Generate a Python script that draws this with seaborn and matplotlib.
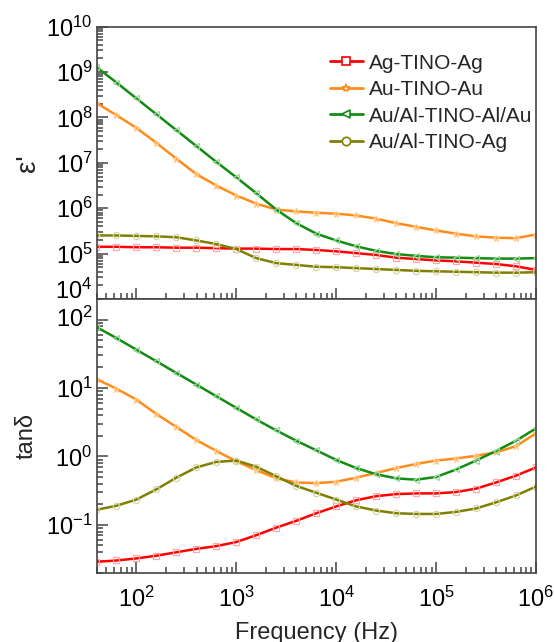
import numpy as np
import pandas as pd
import matplotlib
matplotlib.use("Agg")
import matplotlib.pyplot as plt
import seaborn as sns
from matplotlib.ticker import LogLocator, NullFormatter
from matplotlib.lines import Line2D

sns.set_theme(style="ticks")
plt.rcParams["font.family"] = ["Liberation Sans", "DejaVu Sans"]
plt.rcParams["mathtext.fontset"] = "custom"
plt.rcParams["mathtext.rm"] = "Liberation Sans"
plt.rcParams["mathtext.it"] = "Liberation Sans:italic"
plt.rcParams["mathtext.bf"] = "Liberation Sans:bold"

# ---- data (log10 of frequency in Hz, log10 of values) ----
freq_exp = [1.6, 1.8, 2.0, 2.2, 2.4, 2.6, 2.8, 3.0, 3.2, 3.4, 3.6, 3.8,
            4.0, 4.2, 4.4, 4.6, 4.8, 5.0, 5.2, 5.4, 5.6, 5.8, 6.0]

samples = ["Ag-TINO-Ag", "Au-TINO-Au", "Au/Al-TINO-Al/Au", "Au/Al-TINO-Ag"]

eps_ag = [5.15, 5.15, 5.14, 5.14, 5.13, 5.13, 5.12, 5.11, 5.11, 5.10, 5.10, 5.08,
          5.05, 5.01, 4.97, 4.91, 4.88, 4.85, 4.83, 4.80, 4.77, 4.72, 4.64]
eps_au = [8.32, 8.05, 7.77, 7.44, 7.09, 6.75, 6.50, 6.28, 6.10, 5.97, 5.93, 5.90,
          5.88, 5.84, 5.77, 5.67, 5.59, 5.51, 5.44, 5.38, 5.35, 5.34, 5.42]
eps_alau = [9.11, 8.77, 8.42, 8.07, 7.72, 7.37, 7.02, 6.68, 6.33, 5.97, 5.67, 5.44,
            5.29, 5.16, 5.06, 4.99, 4.95, 4.92, 4.91, 4.90, 4.89, 4.89, 4.90]
eps_alag = [5.40, 5.40, 5.39, 5.38, 5.36, 5.29, 5.21, 5.10, 4.90, 4.79, 4.75, 4.71,
            4.70, 4.68, 4.66, 4.64, 4.62, 4.61, 4.60, 4.59, 4.58, 4.58, 4.59]

tan_ag = [-1.54, -1.52, -1.49, -1.45, -1.40, -1.35, -1.31, -1.25, -1.15, -1.04, -0.94, -0.83,
          -0.73, -0.64, -0.58, -0.55, -0.54, -0.54, -0.52, -0.47, -0.38, -0.28, -0.16]
tan_au = [1.13, 0.99, 0.83, 0.62, 0.43, 0.24, 0.08, -0.07, -0.20, -0.32, -0.38, -0.39,
          -0.37, -0.31, -0.24, -0.17, -0.11, -0.06, -0.03, 0.01, 0.06, 0.15, 0.34]
tan_alau = [1.89, 1.73, 1.56, 1.39, 1.22, 1.05, 0.88, 0.71, 0.54, 0.38, 0.23, 0.09,
            -0.05, -0.17, -0.26, -0.32, -0.34, -0.30, -0.19, -0.06, 0.08, 0.23, 0.41]
tan_alag = [-0.78, -0.72, -0.63, -0.48, -0.31, -0.16, -0.08, -0.06, -0.15, -0.29, -0.43, -0.53,
            -0.63, -0.73, -0.79, -0.83, -0.84, -0.84, -0.81, -0.76, -0.67, -0.57, -0.44]

eps_series = [eps_ag, eps_au, eps_alau, eps_alag]
tan_series = [tan_ag, tan_au, tan_alau, tan_alag]

colors = ["#ff0000", "#ff8c1a", "#128c12", "#7f7f00"]
pale = ["#ffa8a8", "#ffc888", "#9ad89a", "#d4d4a8"]
markers = ["s", "*", "<", "o"]

freq = 10.0 ** np.array(freq_exp)

fig = plt.figure(figsize=(5.54, 6.42), dpi=100)
ax1 = fig.add_axes([0.1745, 0.5343, 0.793, 0.4241])
ax2 = fig.add_axes([0.1745, 0.1079, 0.793, 0.4264])

for ax, series in ((ax1, eps_series), (ax2, tan_series)):
    for name, vals, c, pc, m in zip(samples, series, colors, pale, markers):
        df = pd.DataFrame({"freq": freq, "val": 10.0 ** np.array(vals)})
        sns.lineplot(data=df, x="freq", y="val", ax=ax, color=c, lw=1.8,
                     marker=m, markersize=4.5, markerfacecolor="none",
                     markeredgecolor=pc, markeredgewidth=0.9, legend=False)
    ax.set_xscale("log")
    ax.set_yscale("log")
    ax.set_xlim(40, 1e6)
    ax.set_xlabel("")
    ax.set_ylabel("")
    for s in ax.spines.values():
        s.set_color("#444444")
        s.set_linewidth(1.2)
    ax.tick_params(which="both", direction="in", top=False, right=False,
                   colors="#444444", labelcolor="black", labelsize=17, width=1.1)
    ax.tick_params(which="major", length=8)
    ax.tick_params(which="minor", length=4.5)
    ax.tick_params(axis="y", pad=3)
    ax.xaxis.set_major_locator(LogLocator(base=10, numticks=20))
    ax.xaxis.set_minor_locator(LogLocator(base=10, subs=np.arange(2, 10), numticks=20))
    ax.yaxis.set_major_locator(LogLocator(base=10, numticks=20))
    ax.yaxis.set_minor_locator(LogLocator(base=10, subs=np.arange(2, 10), numticks=20))
    ax.yaxis.set_minor_formatter(NullFormatter())
    ax.xaxis.set_minor_formatter(NullFormatter())

ax1.set_ylim(1e4, 1e10)
ax1.tick_params(axis="x", labelbottom=False)
ax2.set_ylim(0.02, 200)
ax2.tick_params(axis="x", pad=10)

ax1.set_ylabel("ε'", fontsize=20, labelpad=4)
ax2.set_ylabel("tanδ", fontsize=17, labelpad=6)
ax2.set_xlabel("Frequency (Hz)", fontsize=17, labelpad=7)

handles = [Line2D([0], [0], color=c, lw=2, marker=m, markersize=6,
                  markerfacecolor="white", markeredgecolor=c, markeredgewidth=1.2)
           for c, m in zip(colors, markers)]
ax1.legend(handles, samples, loc="upper right", bbox_to_anchor=(1.025, 0.955),
           frameon=False, fontsize=15, handlelength=1.55, handletextpad=0.3,
           labelspacing=0.36, borderaxespad=0.3)

# keep the stacked 10^4 / 10^2 labels at the panel joint from colliding
fig.canvas.draw()
for tick in ax1.yaxis.get_major_ticks():
    if np.isclose(tick.get_loc(), 1e4):
        tick.label1.set_verticalalignment("baseline")
for tick in ax2.yaxis.get_major_ticks():
    if np.isclose(tick.get_loc(), 1e2):
        tick.label1.set_verticalalignment("center")

fig.savefig("out.png", dpi=100)
